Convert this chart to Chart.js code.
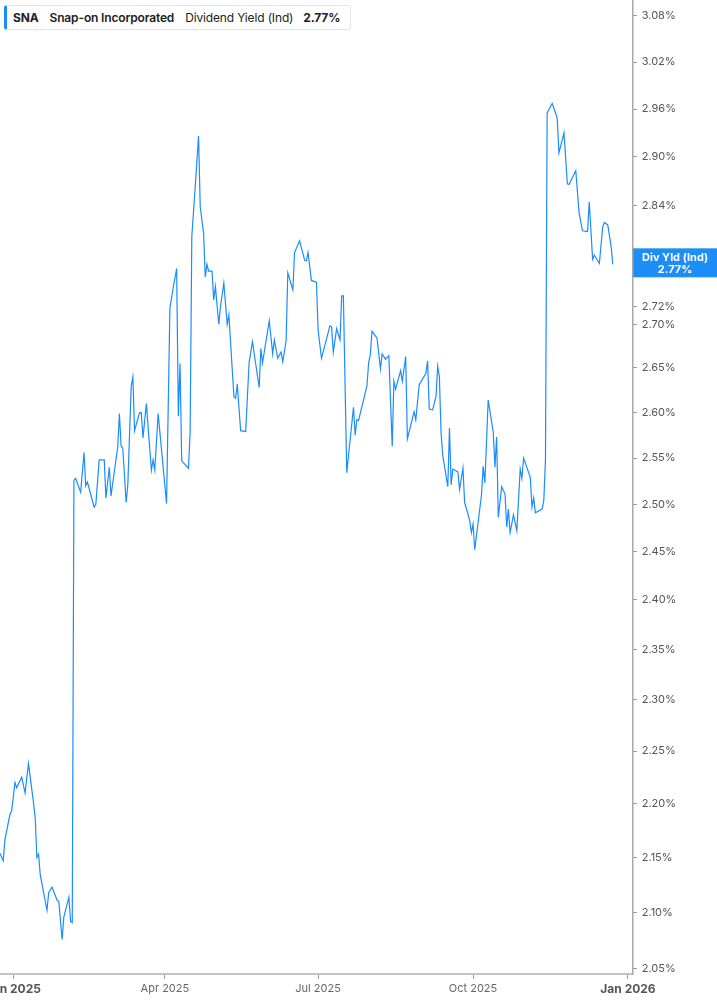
<!DOCTYPE html>
<html>
<head>
<meta charset="utf-8">
<script src="https://cdn.jsdelivr.net/npm/chart.js@4.4.1/dist/chart.umd.min.js"></script>
<style>
  html, body { margin: 0; padding: 0; background: #fff; overflow: hidden; }
  #wrap { position: relative; width: 717px; height: 1005px; }
  #legend {
    position: absolute; left: 4px; top: 5px; height: 25px; width: 347px;
    box-sizing: border-box; background: #fff; border: 1px solid #e6e6e6; border-left: 3px solid #1a8cff;
    border-radius: 3px; display: flex; align-items: center; gap: 11px; padding-left: 6px;
    font-family: Inter, "Noto Sans", sans-serif; font-size: 12px; color: #222; z-index: 2;
    letter-spacing: -0.15px;
  }
  #legend .tk { font-weight: 700; }
  #legend .nm { font-weight: 600; }
  #legend .ms { font-weight: 400; }
  #legend .vl { font-weight: 700; margin-left: -1px; }
</style>
</head>
<body>
<div id="wrap">
  <div id="legend">
    <span class="tk">SNA</span>
    <span class="nm">Snap-on Incorporated</span>
    <span class="ms">Dividend Yield (Ind)</span>
    <span class="vl" id="lastVal"></span>
  </div>
  <canvas id="chart" width="717" height="1005"></canvas>
</div>
<script>
// daily closes
const dates = [
  '2024-12-24', '2024-12-26', '2024-12-27', '2024-12-30', '2024-12-31',
  '2025-01-02', '2025-01-03', '2025-01-06', '2025-01-08', '2025-01-10', '2025-01-13', '2025-01-14',
  '2025-01-15', '2025-01-16', '2025-01-17', '2025-01-21', '2025-01-22', '2025-01-24', '2025-01-27',
  '2025-01-28', '2025-01-30', '2025-01-31',
  '2025-02-03', '2025-02-04', '2025-02-05', '2025-02-06', '2025-02-07', '2025-02-10', '2025-02-12',
  '2025-02-13', '2025-02-14', '2025-02-18', '2025-02-19', '2025-02-21', '2025-02-24', '2025-02-25',
  '2025-02-27', '2025-02-28',
  '2025-03-04', '2025-03-05', '2025-03-06', '2025-03-07', '2025-03-09', '2025-03-10', '2025-03-12',
  '2025-03-13', '2025-03-14', '2025-03-17', '2025-03-18', '2025-03-19', '2025-03-21', '2025-03-24',
  '2025-03-25', '2025-03-26', '2025-03-28',
  '2025-04-02', '2025-04-04', '2025-04-06', '2025-04-08', '2025-04-09', '2025-04-10', '2025-04-11',
  '2025-04-15', '2025-04-16', '2025-04-17', '2025-04-19', '2025-04-21', '2025-04-22', '2025-04-24',
  '2025-04-25', '2025-04-26', '2025-04-27', '2025-04-29', '2025-04-30',
  '2025-05-01', '2025-05-03', '2025-05-04', '2025-05-06', '2025-05-08', '2025-05-09', '2025-05-12',
  '2025-05-13', '2025-05-14', '2025-05-16', '2025-05-19', '2025-05-21', '2025-05-23', '2025-05-27',
  '2025-05-28', '2025-05-29',
  '2025-06-02', '2025-06-04', '2025-06-05', '2025-06-07', '2025-06-09', '2025-06-10', '2025-06-12',
  '2025-06-13', '2025-06-16', '2025-06-17', '2025-06-20', '2025-06-23', '2025-06-24', '2025-06-25',
  '2025-06-27', '2025-06-30',
  '2025-07-01', '2025-07-03', '2025-07-08', '2025-07-09', '2025-07-10', '2025-07-12', '2025-07-14',
  '2025-07-15', '2025-07-16', '2025-07-18', '2025-07-22', '2025-07-23', '2025-07-24', '2025-07-25',
  '2025-07-30', '2025-07-31',
  '2025-08-01', '2025-08-02', '2025-08-05', '2025-08-07', '2025-08-08', '2025-08-10', '2025-08-12',
  '2025-08-14', '2025-08-15', '2025-08-16', '2025-08-19', '2025-08-20', '2025-08-22', '2025-08-23',
  '2025-08-27', '2025-08-28', '2025-08-30',
  '2025-09-03', '2025-09-04', '2025-09-05', '2025-09-07', '2025-09-09', '2025-09-10', '2025-09-11',
  '2025-09-12', '2025-09-13', '2025-09-16', '2025-09-17', '2025-09-18', '2025-09-19', '2025-09-22',
  '2025-09-23', '2025-09-25', '2025-09-26', '2025-09-29', '2025-09-30',
  '2025-10-01', '2025-10-02', '2025-10-06', '2025-10-07', '2025-10-08', '2025-10-10', '2025-10-13',
  '2025-10-14', '2025-10-15', '2025-10-16', '2025-10-18', '2025-10-20', '2025-10-21', '2025-10-22',
  '2025-10-23', '2025-10-25', '2025-10-27', '2025-10-29', '2025-10-30', '2025-10-31',
  '2025-11-04', '2025-11-05', '2025-11-06', '2025-11-07', '2025-11-11', '2025-11-12', '2025-11-13',
  '2025-11-14', '2025-11-17', '2025-11-19', '2025-11-20', '2025-11-21', '2025-11-24', '2025-11-26',
  '2025-11-27',
  '2025-12-01', '2025-12-03', '2025-12-05', '2025-12-08', '2025-12-09', '2025-12-11', '2025-12-12',
  '2025-12-15', '2025-12-17', '2025-12-18', '2025-12-20', '2025-12-22', '2025-12-23'
];

const yieldValues = [
  2.154, 2.147, 2.166, 2.190, 2.193,
  2.220, 2.215, 2.225, 2.210, 2.238, 2.201, 2.187,
  2.150, 2.153, 2.134, 2.102, 2.118, 2.123, 2.111,
  2.110, 2.076, 2.096,
  2.114, 2.092, 2.091, 2.526, 2.528, 2.513, 2.556,
  2.520, 2.524, 2.497, 2.500, 2.548, 2.548, 2.507,
  2.540, 2.509,
  2.562, 2.599, 2.563, 2.561, 2.502, 2.521, 2.629,
  2.640, 2.580, 2.600, 2.600, 2.572, 2.610, 2.537,
  2.548, 2.537, 2.599,
  2.501, 2.719, 2.743, 2.765, 2.596, 2.655, 2.547,
  2.539, 2.578, 2.803, 2.863, 2.926, 2.839, 2.807,
  2.755, 2.770, 2.762, 2.762, 2.728,
  2.744, 2.700, 2.720, 2.748, 2.700, 2.711, 2.618,
  2.616, 2.632, 2.580, 2.579, 2.656, 2.680, 2.628,
  2.672, 2.656,
  2.704, 2.666, 2.682, 2.661, 2.668, 2.657, 2.681,
  2.760, 2.740, 2.784, 2.798, 2.775, 2.774, 2.784,
  2.751, 2.749,
  2.693, 2.661, 2.698, 2.697, 2.668, 2.695, 2.682,
  2.733, 2.733, 2.534, 2.606, 2.575, 2.592, 2.591,
  2.630, 2.656,
  2.665, 2.692, 2.684, 2.649, 2.666, 2.660, 2.664,
  2.563, 2.635, 2.626, 2.647, 2.635, 2.663, 2.571,
  2.601, 2.592, 2.631,
  2.644, 2.658, 2.604, 2.603, 2.618, 2.652, 2.640,
  2.578, 2.553, 2.519, 2.583, 2.521, 2.538, 2.535,
  2.516, 2.539, 2.502, 2.483, 2.470,
  2.479, 2.452, 2.510, 2.541, 2.523, 2.614, 2.578,
  2.540, 2.573, 2.486, 2.519, 2.511, 2.476, 2.495,
  2.470, 2.489, 2.472, 2.538, 2.528, 2.550,
  2.529, 2.497, 2.507, 2.491, 2.495, 2.504, 2.548,
  2.955, 2.967, 2.955, 2.948, 2.905, 2.930, 2.867,
  2.866,
  2.883, 2.831, 2.810, 2.809, 2.845, 2.776, 2.781,
  2.771, 2.815, 2.820, 2.817, 2.791, 2.770
];

// axis ticks
const xTickDates = ['2025-01-01', '2025-04-01', '2025-07-01', '2025-10-01', '2026-01-01'];
const xTickLabels = ['Jan 2025', 'Apr 2025', 'Jul 2025', 'Oct 2025', 'Jan 2026'];
const yTicks = [2.05, 2.10, 2.15, 2.20, 2.25, 2.30, 2.35, 2.40, 2.45, 2.50, 2.55, 2.60, 2.65, 2.70, 2.72,
  2.84, 2.90, 2.96, 3.02, 3.08];

const BASE = Date.UTC(2025, 0, 1);
const toDay = s => {
  const p = s.split('-').map(Number);
  return (Date.UTC(p[0], p[1] - 1, p[2]) - BASE) / 86400000;
};

const points = dates.map((d, i) => ({ x: toDay(d), y: yieldValues[i] }));
const xTickDays = xTickDates.map(toDay);
const lastValue = yieldValues[yieldValues.length - 1];
const lastLabel = lastValue.toFixed(2) + '%';
document.getElementById('lastVal').textContent = lastLabel;

const FONT = 'Inter, "Noto Sans", sans-serif';

// blue box on the axis with the latest value
const lastValueBox = {
  id: 'lastValueBox',
  afterDraw(chart) {
    const { ctx, chartArea } = chart;
    const y = chart.scales.y.getPixelForValue(lastValue);
    const x0 = chartArea.right + 0.5;
    const w = chart.width - x0;
    ctx.save();
    ctx.fillStyle = '#1e8ef7';
    ctx.fillRect(x0, y - 16, w, 29);
    ctx.fillStyle = '#fff';
    ctx.font = '700 11px ' + FONT;
    ctx.textAlign = 'center';
    ctx.textBaseline = 'middle';
    ctx.fillText('Div Yld (Ind)', x0 + w / 2, y - 7);
    ctx.fillText(lastLabel, x0 + w / 2, y + 5);
    ctx.restore();
  }
};

new Chart(document.getElementById('chart'), {
  type: 'line',
  data: {
    datasets: [{
      data: points,
      borderColor: '#1a8cff',
      borderWidth: 1.2,
      pointRadius: 0,
      tension: 0,
      fill: false
    }]
  },
  options: {
    responsive: false,
    animation: false,
    layout: { padding: 0 },
    plugins: { legend: { display: false }, tooltip: { enabled: false } },
    scales: {
      x: {
        type: 'linear',
        min: -7.9,
        max: 367.8,
        border: { display: true, color: '#c4c4c4', width: 2 },
        grid: { display: true, drawOnChartArea: false, drawTicks: true, tickLength: 5, tickColor: '#999' },
        afterBuildTicks: s => { s.ticks = xTickDays.map(v => ({ value: v })); },
        afterFit: s => { s.height = 31; s.paddingLeft = 0; s.paddingRight = 0; },
        ticks: {
          autoSkip: false,
          maxRotation: 0,
          padding: 3,
          color: ctx => (ctx.index === 0 || ctx.index === 4) ? '#555' : '#666',
          font: ctx => (ctx.index === 0 || ctx.index === 4)
            ? { family: FONT, size: 12, weight: '700' }
            : { family: FONT, size: 11, weight: '400' },
          callback: (v, i) => xTickLabels[i]
        }
      },
      y: {
        type: 'logarithmic',
        position: 'right',
        min: 2.0456,
        max: 3.1011,
        border: { display: true, color: '#a8a8a8', width: 1.5 },
        grid: { display: true, drawOnChartArea: false, drawTicks: true, tickLength: 4, tickColor: '#888' },
        afterBuildTicks: s => { s.ticks = yTicks.map(v => ({ value: v })); },
        afterFit: s => { s.width = 84.3; s.paddingTop = 0; s.paddingBottom = 0; },
        ticks: {
          padding: 5,
          color: '#555',
          font: { family: FONT, size: 11 },
          callback: v => Number(v).toFixed(2) + '%'
        }
      }
    }
  },
  plugins: [lastValueBox]
});
</script>
</body>
</html>
